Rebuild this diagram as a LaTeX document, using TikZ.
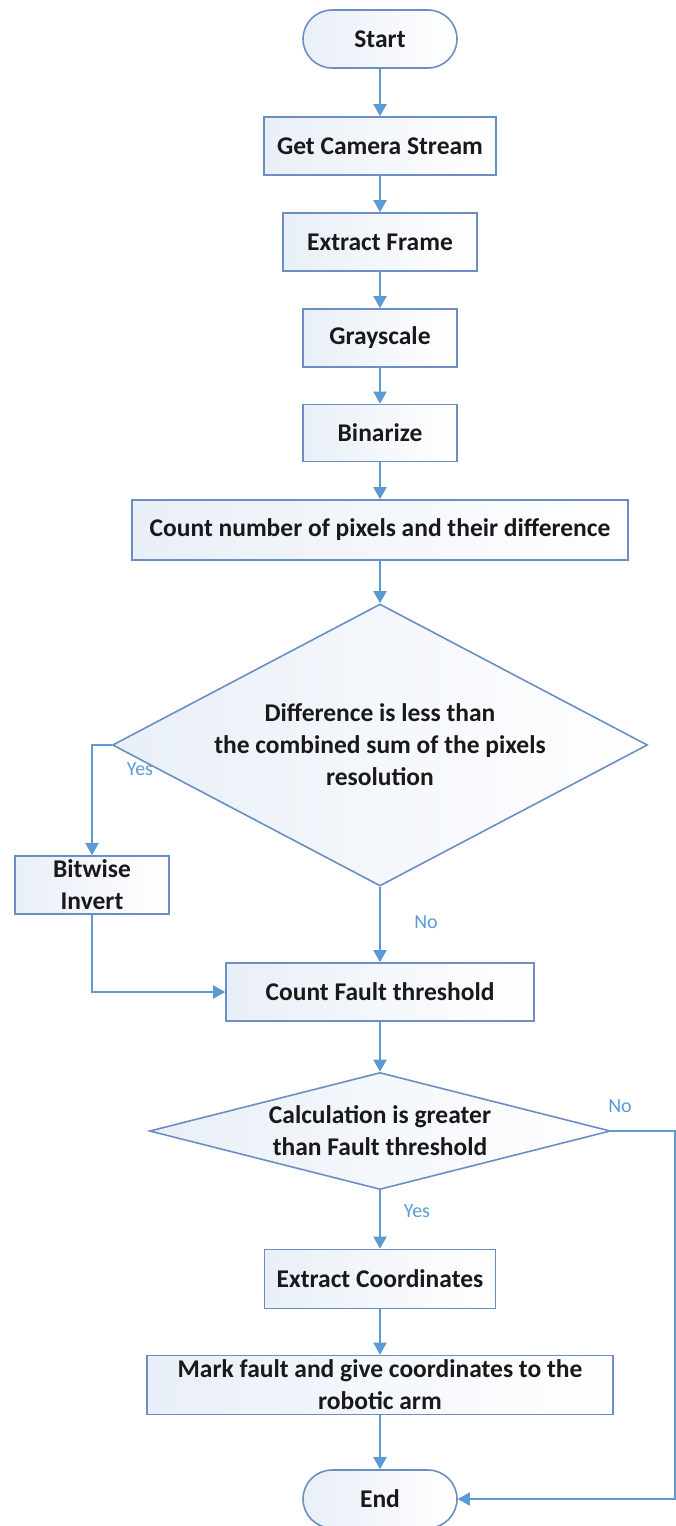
\documentclass[tikz,border=0pt]{standalone}
\usepackage{fontspec}
\setmainfont{Carlito}
\usetikzlibrary{arrows.meta,shapes.geometric,shapes.misc}
\definecolor{lineblue}{HTML}{5B9BD5}
\definecolor{boxedge}{HTML}{6B8FC2}
\definecolor{boxfill}{HTML}{E9EFF8}
\tikzset{
  base/.style={draw=boxedge, line width=1.6pt, left color=boxfill, right color=white,
    font=\fontsize{25.5}{32}\selectfont\bfseries, text=black!90, align=center, inner sep=0pt},
  term/.style={base, rounded rectangle, minimum width=154pt, minimum height=58pt},
  proc/.style={base, rectangle, minimum height=58pt},
  decision/.style={base, diamond},
  arr/.style={draw=lineblue, line width=1.9pt, -{Triangle[length=12pt,width=13pt]}},
  lbl/.style={text=lineblue, font=\fontsize{20}{24}\selectfont}
}

\begin{document}
\begin{tikzpicture}[x=1pt,y=-1pt]
	%%%%% START %%%%%
	\useasboundingbox (0,0) rectangle (676,1526);
	
	\node[term] (start) at (380,39) {Start};
	\node[proc, minimum width=232pt] (stream) at (380,146) {Get Camera Stream};
	\node[proc, minimum width=194pt] (frame) at (380,242) {Extract Frame};
	\node[proc, minimum width=154pt] (gray) at (380,338) {Grayscale};
	\node[proc, minimum width=154pt, minimum height=57pt] (binar) at (380,433) {Binarize};
	\node[proc, minimum width=496pt, minimum height=60pt] (count) at (380,530) {Count number of pixels and their difference};
	
	\node[decision, minimum width=535pt, minimum height=282pt, aspect=1.9] (diff) at (380,745)
		{Difference is less than\\the combined sum of the pixels\\resolution};
	\node[proc, minimum width=154pt] (invert) at (92,885) {Bitwise\\Invert};
	\node[proc, minimum width=308pt] (fault) at (380,992) {Count Fault threshold};
	
	\node[decision, minimum width=461pt, minimum height=117pt, aspect=3.94] (calc) at (380,1131)
		{Calculation is greater\\than Fault threshold};
	\node[proc, minimum width=231pt, minimum height=59pt] (coords) at (380,1279) {Extract Coordinates};
	\node[proc, minimum width=466pt, minimum height=59pt] (mark) at (380,1385)
		{Mark fault and give coordinates to the\\robotic arm};
	\node[term] (stop) at (380,1499) {End};
	
	\coordinate (rim) at (675,1499);
	
	\draw[arr] (start) -- (stream);
	\draw[arr] (stream) -- (frame);
	\draw[arr] (frame) -- (gray);
	\draw[arr] (gray) -- (binar);
	\draw[arr] (binar) -- (count);
	\draw[arr] (count) -- (diff);
	
	\draw[arr] (diff.west) -| (invert.north);
	\draw[arr] (invert.south) |- (fault.west);
	\draw[arr] (diff.south) -- (fault.north);
	\draw[arr] (fault) -- (calc);
	\draw[arr] (calc.east) -| (rim) -- (stop.east);
	\draw[arr] (calc.south) -- (coords.north);
	\draw[arr] (coords) -- (mark);
	\draw[arr] (mark) -- (stop);
	
	\node[lbl] (yes1) at (140,769) {Yes};
	\node[lbl] (no1) at (426,922) {No};
	\node[lbl] (no2) at (620,1106) {No};
	\node[lbl] (yes2) at (417,1211) {Yes};
	%%%%% END %%%%%
\end{tikzpicture}
\end{document}
